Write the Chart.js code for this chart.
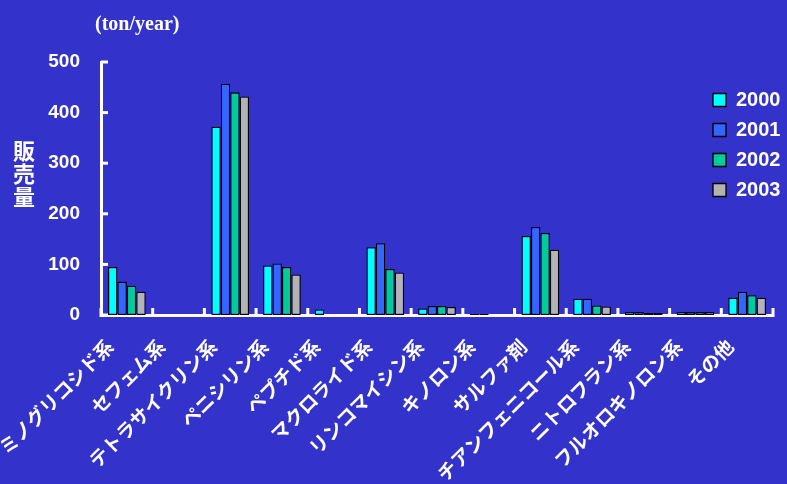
<!DOCTYPE html>
<html>
<head>
<meta charset="utf-8">
<script src="https://cdn.jsdelivr.net/npm/chart.js@4.4.0/dist/chart.umd.min.js"></script>
<style>
  body { margin: 0; background: #3333cc; }
  #wrap { position: relative; width: 787px; height: 484px; }
  .unit { position: absolute; left: 95px; top: 11px; font: bold 20px "Liberation Serif", serif; line-height: 24px; color: #fff; }
  .ytitle { position: absolute; left: 11px; top: 138px; width: 26px; text-align: center; font: bold 22px "Noto Sans CJK JP", sans-serif; line-height: 23px; color: #fff; }
</style>
</head>
<body>
<div id="wrap">
  <canvas id="salesChart" width="787" height="484"></canvas>
  <div class="unit">(ton/year)</div>
  <div class="ytitle">販<br>売<br>量</div>
</div>
<script>
const categories = ['アミノグリコシド系', 'セフェム系', 'テトラサイクリン系', 'ペニシリン系', 'ペプチド系',
  'マクロライド系', 'リンコマイシン系', 'キノロン系', 'サルファ剤', 'チアンフェニコール系',
  'ニトロフラン系', 'フルオロキノロン系', 'その他'];

const sales2000 = [95, 0, 372, 98, 11, 134, 13, 2, 156, 32, 6, 6, 34];
const sales2001 = [66, 0, 457, 102, 0, 142, 18, 2, 174, 32, 6, 6, 46];
const sales2002 = [58, 0, 440, 95, 0, 91, 18, 0, 162, 19, 4, 6, 39];
const sales2003 = [46, 0, 432, 80, 0, 84, 16, 0, 129, 17, 4, 6, 34];

const yTicks = [0, 100, 200, 300, 400, 500];

const WHITE = '#ffffff';

// inward tick marks, like the original
const tickMarks = {
  id: 'tickMarks',
  afterLayout(chart) {
    const lg = chart.legend;
    lg.left = 703; lg.right = 787;
    lg.top = 80; lg.bottom = 220;
  },
  afterDraw(chart) {
    const { ctx, chartArea } = chart;
    const x = chart.scales.x, y = chart.scales.y;
    ctx.save();
    ctx.strokeStyle = WHITE;
    ctx.lineWidth = 3;
    yTicks.forEach(v => {
      const py = y.getPixelForValue(v);
      ctx.beginPath();
      ctx.moveTo(chartArea.left, py);
      ctx.lineTo(chartArea.left + 7, py);
      ctx.stroke();
    });
    for (let i = 0; i <= categories.length; i++) {
      const px = x.getPixelForValue(i - 0.5);
      ctx.beginPath();
      ctx.moveTo(px, chartArea.bottom - 7);
      ctx.lineTo(px, chartArea.bottom + 2);
      ctx.stroke();
    }
    ctx.restore();
  }
};

const mkSet = (label, data, color) => ({
  label, data,
  backgroundColor: color,
  borderColor: '#000000',
  borderWidth: 1.3,
  borderSkipped: false,
  categoryPercentage: 0.73,
  barPercentage: 1
});

new Chart(document.getElementById('salesChart').getContext('2d'), {
  type: 'bar',
  data: {
    labels: categories,
    datasets: [
      mkSet('2000', sales2000, '#00ffff'),
      mkSet('2001', sales2001, '#3366ff'),
      mkSet('2002', sales2002, '#00cc99'),
      mkSet('2003', sales2003, '#b3b3b3')
    ]
  },
  options: {
    responsive: false,
    animation: false,
    layout: { padding: { left: 0, top: 62, right: 14, bottom: 0 } },
    plugins: {
      tooltip: { enabled: false },
      legend: {
        position: 'chartArea',
        align: 'start',
        labels: {
          color: WHITE,
          boxWidth: 13,
          boxHeight: 13,
          padding: 10,
          font: { family: 'Liberation Sans', weight: 'bold', size: 20 }
        }
      }
    },
    scales: {
      x: {
        grid: { display: false },
        border: { display: true, color: WHITE, width: 3 },
        ticks: {
          color: WHITE,
          autoSkip: false,
          maxRotation: 45,
          minRotation: 45,
          padding: 12,
          labelOffset: -17,
          font: { family: 'Noto Sans CJK JP', weight: 'bold', size: 19 }
        },
        afterFit(scale) {
          scale.height = 169;
          scale.paddingLeft = 0;
          scale.paddingRight = 0;
        }
      },
      y: {
        min: 0,
        max: 500,
        grid: { display: false, drawTicks: false },
        border: { display: true, color: WHITE, width: 3 },
        ticks: {
          stepSize: 100,
          color: WHITE,
          padding: 21,
          font: { family: 'Liberation Sans', weight: 'bold', size: 19 }
        },
        afterFit(scale) {
          scale.width = 101;
          scale.paddingTop = 0;
          scale.paddingBottom = 0;
        }
      }
    }
  },
  plugins: [tickMarks]
});
</script>
</body>
</html>
